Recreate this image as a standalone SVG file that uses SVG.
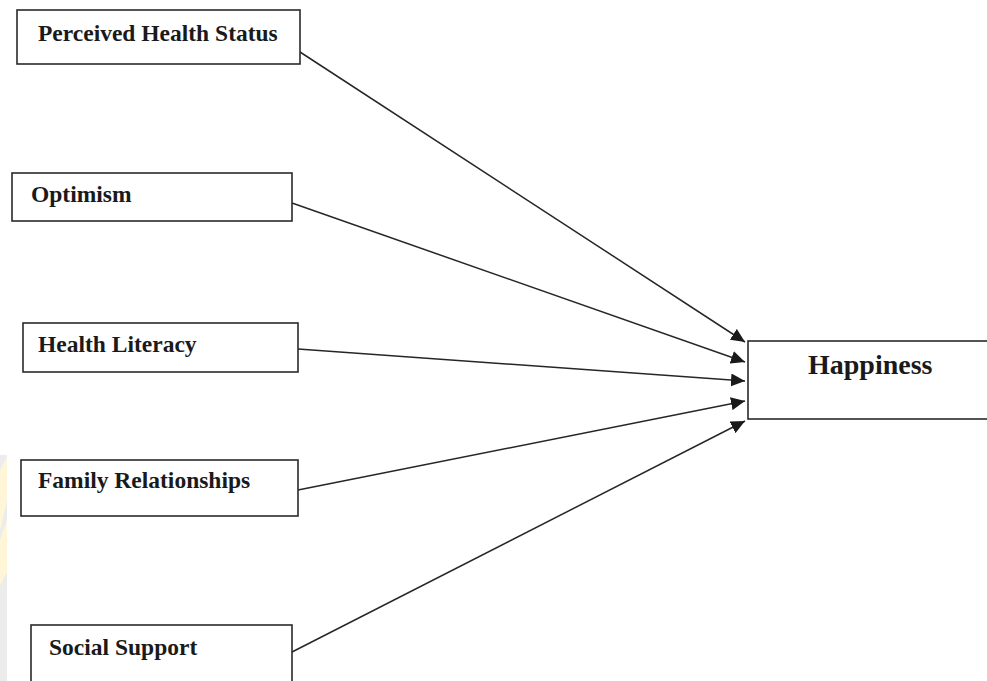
<svg xmlns="http://www.w3.org/2000/svg" width="987" height="681" viewBox="0 0 987 681">
  <style>
    .box { fill: #ffffff; stroke: #2a2a2a; stroke-width: 1.6; }
    .lbl { font-family: "Liberation Serif", "Times New Roman", serif; font-weight: bold; font-size: 23.5px; fill: #1a1a1a; }
    .big { font-size: 28px; }
    .edge { stroke: #262626; stroke-width: 1.5; fill: none; marker-end: url(#arrow); }
  </style>
  <defs>
    <marker id="arrow" markerUnits="userSpaceOnUse" markerWidth="15" markerHeight="13" refX="14" refY="6.5" orient="auto">
      <path d="M0,0 L14,6.5 L0,13 Z" fill="#1a1a1a"/>
    </marker>
  </defs>
  <rect x="0" y="0" width="987" height="681" fill="#ffffff"/>
  <g id="watermark">
    <rect x="0" y="455" width="7" height="226" fill="#ececec"/>
    <polygon points="0,470 7,457 7,500 0,530" fill="#fff6d8"/>
    <polygon points="0,540 7,520 7,572 0,585" fill="#fff6d8"/>
  </g>
  <g id="connectors">
    <line class="edge" x1="300" y1="52" x2="745" y2="342"/>
    <line class="edge" x1="292" y1="203" x2="745" y2="362"/>
    <line class="edge" x1="298" y1="349" x2="745" y2="381"/>
    <line class="edge" x1="298" y1="490" x2="745" y2="401"/>
    <line class="edge" x1="292" y1="652" x2="745" y2="421"/>
  </g>
  <g id="perceived-health-status">
    <rect class="box" x="17" y="10" width="283" height="54"/>
    <text class="lbl" x="38" y="41">Perceived Health Status</text>
  </g>
  <g id="optimism">
    <rect class="box" x="12" y="173" width="280" height="48"/>
    <text class="lbl" x="31" y="202">Optimism</text>
  </g>
  <g id="health-literacy">
    <rect class="box" x="23" y="323" width="275" height="49"/>
    <text class="lbl" x="38" y="352">Health Literacy</text>
  </g>
  <g id="family-relationships">
    <rect class="box" x="21" y="460" width="277" height="56"/>
    <text class="lbl" x="38" y="488">Family Relationships</text>
  </g>
  <g id="social-support">
    <rect class="box" x="31" y="625" width="261" height="70"/>
    <text class="lbl" x="49" y="655">Social Support</text>
  </g>
  <g id="happiness">
    <rect class="box" x="748" y="341" width="250" height="78"/>
    <text class="lbl big" x="808" y="374">Happiness</text>
  </g>
</svg>
